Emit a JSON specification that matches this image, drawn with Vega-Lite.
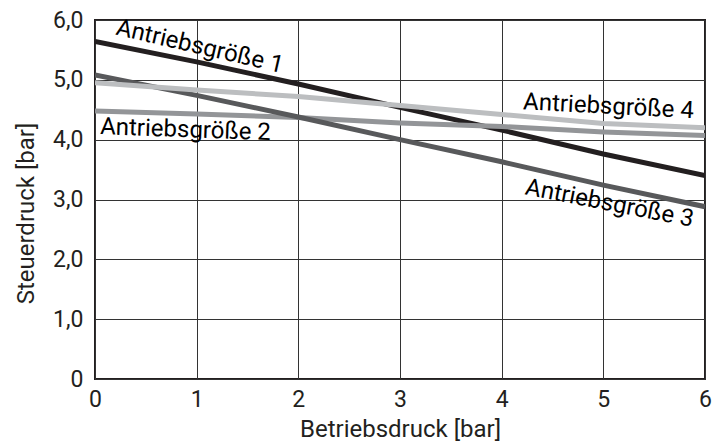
{
  "$schema": "https://vega.github.io/schema/vega-lite/v6.json",
  "width": 610,
  "height": 359,
  "autosize": {"type": "none"},
  "padding": {"left": 95, "top": 20, "right": 8, "bottom": 64},
  "background": "white",
  "config": {
    "font": "Roboto",
    "view": {"stroke": "#231f20", "strokeWidth": 2},
    "axis": {
      "gridColor": "#333333",
      "gridWidth": 1,
      "gridOpacity": 1,
      "domain": false,
      "ticks": false,
      "labelFlush": false,
      "labelFont": "Roboto",
      "labelFontSize": 23,
      "labelColor": "#231f20",
      "titleFont": "Roboto",
      "titleFontSize": 24,
      "titleFontWeight": "normal",
      "titleColor": "#231f20"
    }
  },
  "datasets": {
    "lines": [
      {"series": "1", "x": 0, "y": 5.64}, {"series": "1", "x": 1, "y": 5.30}, {"series": "1", "x": 2, "y": 4.93}, {"series": "1", "x": 3, "y": 4.54}, {"series": "1", "x": 4, "y": 4.16}, {"series": "1", "x": 5, "y": 3.76}, {"series": "1", "x": 6, "y": 3.40},
      {"series": "2", "x": 0, "y": 4.48}, {"series": "2", "x": 1, "y": 4.43}, {"series": "2", "x": 2, "y": 4.37}, {"series": "2", "x": 3, "y": 4.28}, {"series": "2", "x": 4, "y": 4.22}, {"series": "2", "x": 5, "y": 4.13}, {"series": "2", "x": 6, "y": 4.07},
      {"series": "3", "x": 0, "y": 5.08}, {"series": "3", "x": 1, "y": 4.74}, {"series": "3", "x": 2, "y": 4.38}, {"series": "3", "x": 3, "y": 4.00}, {"series": "3", "x": 4, "y": 3.63}, {"series": "3", "x": 5, "y": 3.24}, {"series": "3", "x": 6, "y": 2.88},
      {"series": "4", "x": 0, "y": 4.95}, {"series": "4", "x": 1, "y": 4.83}, {"series": "4", "x": 2, "y": 4.72}, {"series": "4", "x": 3, "y": 4.57}, {"series": "4", "x": 4, "y": 4.42}, {"series": "4", "x": 5, "y": 4.27}, {"series": "4", "x": 6, "y": 4.20}
    ],
    "labels": [
      {"label": "Antriebsgröße 1", "x": 1.03, "y": 5.55},
      {"label": "Antriebsgröße 2", "x": 0.89, "y": 4.16},
      {"label": "Antriebsgröße 3", "x": 5.06, "y": 2.93},
      {"label": "Antriebsgröße 4", "x": 5.05, "y": 4.55}
    ]
  },
  "layer": [
    {
      "data": {"name": "lines"},
      "mark": {"type": "line", "strokeWidth": 5, "strokeCap": "butt", "clip": true},
      "encoding": {
        "x": {"field": "x", "type": "quantitative", "scale": {"domain": [0, 6], "nice": false},
              "axis": {"title": "Betriebsdruck [bar]", "values": [0,1,2,3,4,5,6], "format": "d", "labelPadding": 9, "titlePadding": 6, "grid": true}},
        "y": {"field": "y", "type": "quantitative", "scale": {"domain": [0, 6], "nice": false},
              "axis": {"title": "Steuerdruck [bar]", "values": [0,1,2,3,4,5,6], "labelPadding": 12, "titlePadding": 14, "titleY": 193, "grid": true,
                       "labelExpr": "datum.value == 0 ? '0' : replace(format(datum.value, '.1f'), '.', ',')"}},
        "color": {"field": "series", "type": "nominal", "legend": null,
                  "scale": {"domain": ["1", "2", "3", "4"], "range": ["#231f20", "#939598", "#58595b", "#bcbec0"]}},
        "order": {"field": "series"}
      }
    },
    {
      "data": {"name": "labels"},
      "transform": [{"filter": "datum.label == 'Antriebsgröße 1'"}],
      "mark": {"type": "text", "angle": 13, "fontSize": 24, "font": "Roboto", "color": "#000000", "align": "center", "baseline": "middle"},
      "encoding": {"x": {"field": "x", "type": "quantitative"}, "y": {"field": "y", "type": "quantitative"}, "text": {"field": "label"}}
    },
    {
      "data": {"name": "labels"},
      "transform": [{"filter": "datum.label == 'Antriebsgröße 2'"}],
      "mark": {"type": "text", "angle": 2, "fontSize": 24, "font": "Roboto", "color": "#000000", "align": "center", "baseline": "middle"},
      "encoding": {"x": {"field": "x", "type": "quantitative"}, "y": {"field": "y", "type": "quantitative"}, "text": {"field": "label"}}
    },
    {
      "data": {"name": "labels"},
      "transform": [{"filter": "datum.label == 'Antriebsgröße 3'"}],
      "mark": {"type": "text", "angle": 11, "fontSize": 24, "font": "Roboto", "color": "#000000", "align": "center", "baseline": "middle"},
      "encoding": {"x": {"field": "x", "type": "quantitative"}, "y": {"field": "y", "type": "quantitative"}, "text": {"field": "label"}}
    },
    {
      "data": {"name": "labels"},
      "transform": [{"filter": "datum.label == 'Antriebsgröße 4'"}],
      "mark": {"type": "text", "angle": 3, "fontSize": 24, "font": "Roboto", "color": "#000000", "align": "center", "baseline": "middle"},
      "encoding": {"x": {"field": "x", "type": "quantitative"}, "y": {"field": "y", "type": "quantitative"}, "text": {"field": "label"}}
    }
  ]
}
